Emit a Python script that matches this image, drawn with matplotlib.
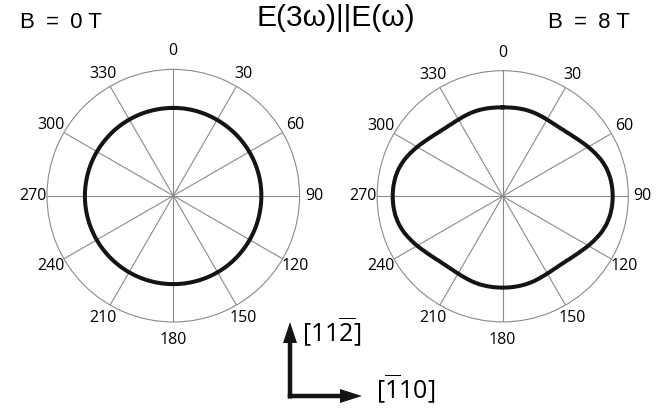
import matplotlib.pyplot as plt
import numpy as np
from matplotlib.patches import FancyArrow

plt.rcParams['mathtext.fontset'] = 'custom'
plt.rcParams['mathtext.rm'] = 'Open Sans'
plt.rcParams['mathtext.it'] = 'Open Sans'

# polarisation angle (deg) and normalised third-harmonic amplitude
angles_0T = np.arange(0, 360, 10)
r_0T = [0.695, 0.695, 0.694, 0.693, 0.693, 0.694, 0.695, 0.696, 0.697,
        0.697, 0.697, 0.698, 0.698, 0.699, 0.700, 0.700, 0.700, 0.700,
        0.700, 0.700, 0.700, 0.700, 0.700, 0.700, 0.700, 0.700, 0.700,
        0.700, 0.699, 0.699, 0.698, 0.697, 0.697, 0.696, 0.696, 0.695]
angles_8T = np.arange(0, 360, 5)
r_8T = [0.708, 0.709, 0.711, 0.712, 0.711, 0.708, 0.705, 0.705, 0.710,
        0.721, 0.738, 0.760, 0.786, 0.812, 0.837, 0.856, 0.868, 0.874,
        0.876, 0.874, 0.868, 0.856, 0.837, 0.812, 0.787, 0.761, 0.740,
        0.723, 0.713, 0.709, 0.710, 0.714, 0.720, 0.724, 0.726, 0.727,
        0.727, 0.727, 0.726, 0.724, 0.720, 0.714, 0.710, 0.709, 0.713,
        0.723, 0.740, 0.761, 0.787, 0.812, 0.837, 0.856, 0.868, 0.874,
        0.876, 0.874, 0.868, 0.856, 0.837, 0.812, 0.786, 0.760, 0.738,
        0.721, 0.710, 0.705, 0.705, 0.708, 0.711, 0.712, 0.711, 0.709]
tick_angles = np.arange(0, 360, 30)
tick_labels = [str(a) for a in tick_angles]

W, H = 667, 408
fig = plt.figure(figsize=(W / 100, H / 100), dpi=100)


def polar_panel(rect, ang, r_vals):
    ax = fig.add_axes(rect, projection='polar')
    ax.set_theta_zero_location('N')
    ax.set_theta_direction(-1)
    # close the curve at 360 deg so the last arc runs forward
    th = np.deg2rad(np.append(ang, 360))
    rr = np.append(r_vals, r_vals[0])
    line, = ax.plot(th, rr, color='#141414', lw=2.9, solid_joinstyle='round')
    # let the polar transform draw arcs between the points
    line.get_path()._interpolation_steps = 10
    ax.set_ylim(0, 1)
    ax.set_yticks([])
    ax.set_xticks(np.deg2rad(tick_angles))
    ax.set_xticklabels([])
    ax.tick_params(axis='x', length=0)
    ax.grid(True, axis='x', color='#8a8a8a', lw=0.8)
    ax.spines['polar'].set_color('#8a8a8a')
    ax.spines['polar'].set_linewidth(0.8)
    for a, lab in zip(tick_angles, tick_labels):
        r_lab = 1.143 if a % 180 == 0 else 1.115
        ax.text(np.deg2rad(a), r_lab, lab, ha='center', va='center',
                fontsize=11.5, family='Open Sans', clip_on=False)
    return ax


polar_panel([47 / W, 1 - 322 / H, 252.6 / W, 252.6 / H], angles_0T, r_0T)
polar_panel([377.1 / W, 1 - 321.9 / H, 251.2 / W, 251.2 / H], angles_8T, r_8T)

# overlay in pixel coordinates for the titles and crystal axes
ov = fig.add_axes([0, 0, 1, 1])
ov.set_xlim(0, W)
ov.set_ylim(H, 0)
ov.axis('off')

ov.text(60.5, 28.3, 'B\u2002=\u20020 T', ha='center', va='baseline',
        fontsize=16, family='Liberation Sans')
ov.text(588.5, 28.3, 'B\u2002=\u20028 T', ha='center', va='baseline',
        fontsize=16, family='Liberation Sans')
ov.text(335.5, 26, 'E(3ω)||E(ω)', ha='center', va='baseline',
        fontsize=21.5, family='Liberation Sans')

ov.add_patch(FancyArrow(290, 398.5, 0, -76.5, width=4.5, head_width=14,
                        head_length=21, length_includes_head=True,
                        color='#141414', lw=0))
ov.add_patch(FancyArrow(287.8, 396, 74.2, 0, width=4.5, head_width=14,
                        head_length=22, length_includes_head=True,
                        color='#141414', lw=0))
ov.text(332, 332, r'$[11\overline{2}]$', ha='center', va='center',
        fontsize=18)
ov.text(406, 388.5, r'$[\overline{1}10]$', ha='center', va='center',
        fontsize=18)

fig.savefig('out.png', dpi=100)
